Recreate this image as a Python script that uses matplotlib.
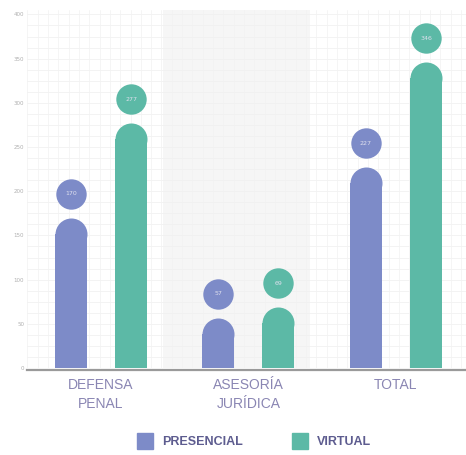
import matplotlib
matplotlib.use("Agg")
import matplotlib.pyplot as plt
from matplotlib.lines import Line2D
import numpy as np

categories = ["DEFENSA\nPENAL", "ASESORÍA\nJURÍDICA", "TOTAL"]
series_names = ["PRESENCIAL", "VIRTUAL"]
presencial = [170, 57, 227]
virtual = [277, 69, 346]
yticks = [0, 50, 100, 150, 200, 250, 300, 350, 400]
colors = ["#7d8bc8", "#5cb9a6"]

W, H, DPI = 466, 455, 100
fig = plt.figure(figsize=(W / DPI, H / DPI), dpi=DPI)
ax_left, ax_bottom, ax_top = 27, 368, 10
ax = fig.add_axes([ax_left / W, (H - ax_bottom) / H, 1 - ax_left / W, (ax_bottom - ax_top) / H])
ymax = 405
ax.set_ylim(0, ymax)
ax.set_xlim(-0.502, 2.475)

px_per_unit_y = (ax_bottom - ax_top) / ymax
px_per_unit_x = (W - ax_left) / (2.475 + 0.502)

# background
ax.axvspan(0.42, 1.42, color="#f6f6f6", zorder=0, lw=0)
for y in np.arange(0, ymax, 12.5):
    ax.axhline(y, color="#efefef", lw=0.5, zorder=0.5)
for x in np.arange(-0.5, 2.5, 0.07):
    ax.axvline(x, color="#f2f2f2", lw=0.5, zorder=0.5)

bar_w_px = 32
bw = bar_w_px / px_per_unit_x
offset = 30 / px_per_unit_x
r_data = (bar_w_px / 2) / px_per_unit_y
ms = bar_w_px * 72 / DPI
gap = 24 / px_per_unit_y
x = np.arange(len(categories))
for vals, off, col in [(presencial, -offset, colors[0]), (virtual, offset, colors[1])]:
    xs = x + off
    ax.bar(xs, [v - r_data for v in vals], width=bw, color=col, zorder=2, lw=0)
    ax.plot(xs, [v - r_data for v in vals], 'o', ms=ms, color=col, mec='none', zorder=2)
    ax.plot(xs, [v + gap for v in vals], 'o', ms=ms * 0.95, color=col, mec='none', zorder=3)
    for xi, v in zip(xs, vals):
        ax.text(xi, v + gap, str(v), ha='center', va='center', fontsize=4.5,
                color='#dfe0ee', zorder=4)

for s in ["top", "right", "left"]:
    ax.spines[s].set_visible(False)
ax.spines["bottom"].set_color("#9a9a9a")
ax.spines["bottom"].set_linewidth(1.6)
ax.spines["bottom"].set_position(("data", -2))
ax.set_yticks(yticks)
ax.set_yticklabels([str(t) for t in yticks])
ax.tick_params(axis='y', length=0, labelsize=4, labelcolor="#b0b0b0", pad=2)
ax.set_xticks(x)
ax.set_xticklabels(categories, family=['Liberation Sans', 'DejaVu Sans'],
                   fontsize=10, color="#8a86b3", linespacing=1.45)
ax.tick_params(axis='x', length=0, pad=6)

handles = [Line2D([], [], marker='s', ls='none', ms=11.5, color=c) for c in colors]
leg = fig.legend(handles, series_names, loc='center', bbox_to_anchor=(0.54, 1 - 442 / H),
                 ncol=2, frameon=False, columnspacing=3.6, handletextpad=0.35,
                 prop={'family': ['Liberation Sans', 'DejaVu Sans'], 'weight': 'bold', 'size': 9})
for t in leg.get_texts():
    t.set_color("#5d5c8f")

fig.savefig("out.png", dpi=DPI)
